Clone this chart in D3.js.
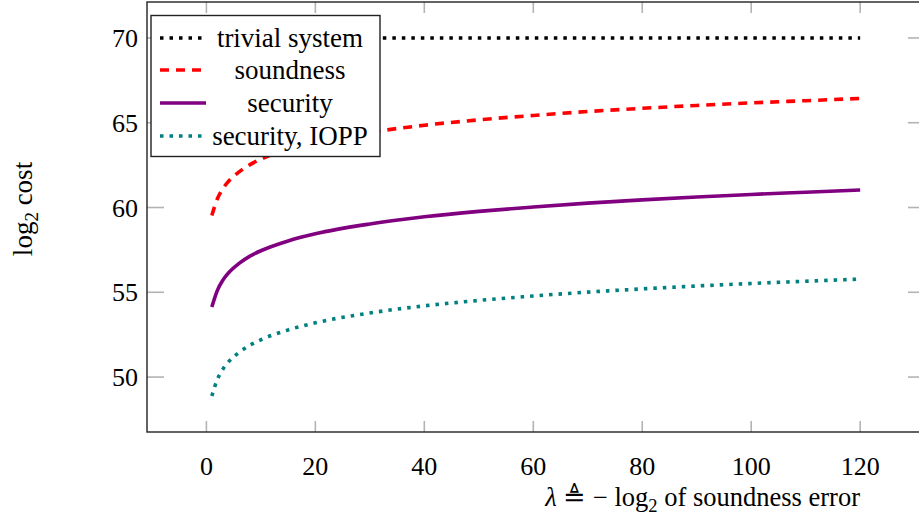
<!DOCTYPE html>
<html lang="en">
<head>
    <meta charset="UTF-8">
    <title>log2 cost vs soundness error</title>
    <script src="https://cdnjs.cloudflare.com/ajax/libs/d3/7.8.5/d3.min.js"></script>
    <style>
        body {
            margin: 0;
            padding: 0;
            background: white;
        }
    </style>
</head>
<body>
  <div id="chart"></div>

  <script>
    // Data
    const lambdas   = [1, 2, 3, 4, 6, 8, 10, 15, 20, 30, 40, 50, 60, 70, 80, 90, 100, 110, 120];
    const trivial   = [70, 70, 70, 70, 70, 70, 70, 70, 70, 70, 70, 70, 70, 70, 70, 70, 70, 70, 70];
    const soundness = [59.53, 60.5, 61.1, 61.52, 62.1, 62.53, 62.85, 63.43, 63.85, 64.43, 64.85, 65.17, 65.43, 65.66, 65.85, 66.02, 66.17, 66.3, 66.43];
    const security  = [54.13, 55.1, 55.7, 56.12, 56.7, 57.13, 57.45, 58.03, 58.45, 59.03, 59.45, 59.77, 60.03, 60.26, 60.45, 60.62, 60.77, 60.9, 61.03];
    const iopp      = [48.88, 49.85, 50.45, 50.87, 51.45, 51.88, 52.2, 52.78, 53.2, 53.78, 54.2, 54.52, 54.78, 55.01, 55.2, 55.37, 55.52, 55.65, 55.78];

    const xTicks = [0, 20, 40, 60, 80, 100, 120];
    const yTicks = [50, 55, 60, 65, 70];

    const seriesNames = ["trivial system", "soundness", "security", "security, IOPP"];
    const seriesData  = [trivial, soundness, security, iopp];
    const colors      = ["#000000", "#ff0000", "#800080", "#008080"];
    const dashes      = ["3.5,6", "9,7", null, "3.5,6"];

    const width = 919;
    const height = 519;
    const serif = "'Liberation Serif', 'DejaVu Serif', serif";

    const plotLeft = 147, plotRight = 925, plotTop = 2, plotBottom = 432;

    const svg = d3.select("#chart")
        .append("svg")
        .attr("width", width)
        .attr("height", height)
        .style("font-family", serif);

    const x = d3.scaleLinear().domain([-10.9, 131.9]).range([plotLeft, plotRight]);
    const y = d3.scaleLinear().domain([46.76, 72.12]).range([plotBottom, plotTop]);

    // tick marks (grey, inside, on all four sides)
    const tickColor = "#b3b3b3";
    const tg = svg.append("g");
    xTicks.forEach(t => {
        tg.append("line").attr("x1", x(t)).attr("x2", x(t)).attr("y1", plotBottom).attr("y2", plotBottom - 11)
            .attr("stroke", tickColor).attr("stroke-width", 1.6);
        tg.append("line").attr("x1", x(t)).attr("x2", x(t)).attr("y1", plotTop).attr("y2", plotTop + 11)
            .attr("stroke", tickColor).attr("stroke-width", 1.6);
    });
    yTicks.forEach(t => {
        tg.append("line").attr("x1", plotLeft).attr("x2", plotLeft + 17).attr("y1", y(t)).attr("y2", y(t))
            .attr("stroke", tickColor).attr("stroke-width", 1.6);
        tg.append("line").attr("x1", plotRight).attr("x2", plotRight - 17).attr("y1", y(t)).attr("y2", y(t))
            .attr("stroke", tickColor).attr("stroke-width", 1.6);
    });

    // tick labels
    svg.append("g").selectAll("text")
        .data(xTicks)
        .enter()
        .append("text")
        .attr("x", d => x(d))
        .attr("y", 475)
        .attr("text-anchor", "middle")
        .style("font-size", "26px")
        .text(d => d);

    svg.append("g").selectAll("text")
        .data(yTicks)
        .enter()
        .append("text")
        .attr("x", 138)
        .attr("y", d => y(d) + 9)
        .attr("text-anchor", "end")
        .style("font-size", "26px")
        .text(d => d);

    // curves
    const line = d3.line()
        .x((d, i) => x(lambdas[i]))
        .y(d => y(d))
        .curve(d3.curveMonotoneX);

    seriesData.forEach((s, i) => {
        svg.append("path")
            .datum(s)
            .attr("d", line)
            .attr("fill", "none")
            .attr("stroke", colors[i])
            .attr("stroke-width", 3.6)
            .attr("stroke-dasharray", dashes[i]);
    });

    // axis frame
    svg.append("rect")
        .attr("x", plotLeft)
        .attr("y", plotTop)
        .attr("width", plotRight - plotLeft)
        .attr("height", plotBottom - plotTop)
        .attr("fill", "none")
        .attr("stroke", "#222")
        .attr("stroke-width", 1.4);

    // legend
    const lg = svg.append("g");
    lg.append("rect")
        .attr("x", 151).attr("y", 15.5)
        .attr("width", 229).attr("height", 141)
        .attr("fill", "white")
        .attr("stroke", "#222")
        .attr("stroke-width", 1.4);

    const rowY = [38, 70, 103, 136];
    seriesNames.forEach((name, i) => {
        lg.append("line")
            .attr("x1", 160).attr("x2", 206)
            .attr("y1", rowY[i]).attr("y2", rowY[i])
            .attr("stroke", colors[i])
            .attr("stroke-width", 3.6)
            .attr("stroke-dasharray", dashes[i]);
        lg.append("text")
            .attr("x", 290)
            .attr("y", rowY[i] + 8.5)
            .attr("text-anchor", "middle")
            .style("font-size", "27px")
            .text(name);
    });

    // x label
    const xl = svg.append("text")
        .attr("x", 860)
        .attr("y", 506)
        .attr("text-anchor", "end")
        .style("font-size", "26.5px");
    xl.append("tspan").style("font-style", "italic").text("λ");
    xl.append("tspan").text(" ≜ − log");
    xl.append("tspan").attr("dy", 6).style("font-size", "18.5px").text("2");
    xl.append("tspan").attr("dy", -6).text(" of soundness error");

    // y label
    const yl = svg.append("text")
        .attr("transform", "translate(32,209) rotate(-90)")
        .attr("text-anchor", "middle")
        .style("font-size", "27px");
    yl.append("tspan").text("log");
    yl.append("tspan").attr("dy", 6).style("font-size", "19px").text("2");
    yl.append("tspan").attr("dy", -6).text(" cost");
  </script>
</body>
</html>
